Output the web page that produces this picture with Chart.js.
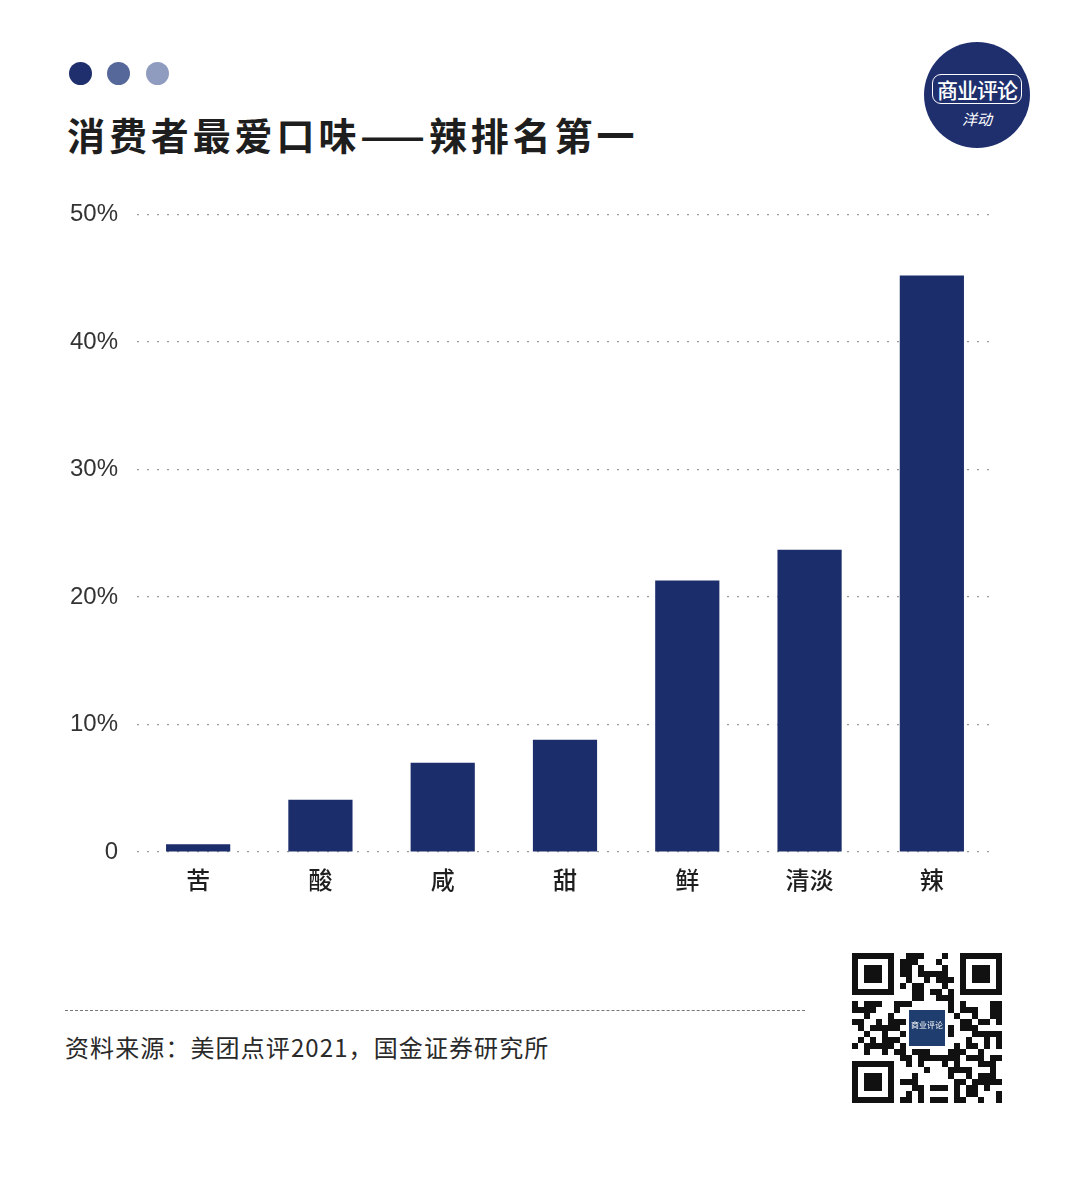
<!DOCTYPE html>
<html>
<head>
<meta charset="utf-8">
<script src="https://cdn.jsdelivr.net/npm/chart.js@4.4.0/dist/chart.umd.min.js"></script>
<style>
  html, body { margin: 0; padding: 0; background: #ffffff; }
  body { width: 1080px; height: 1191px; position: relative; overflow: hidden; font-family: "Noto Sans CJK SC", "Noto Sans", sans-serif; }
  .dot { position: absolute; width: 23px; height: 23px; border-radius: 50%; top: 62px; }
  #title { position: absolute; left: 67px; top: 108px; font-size: 38px; font-weight: 700; color: #1e1e1e; letter-spacing: 3.9px; white-space: nowrap; line-height: 52px; }
  #logo { position: absolute; left: 924px; top: 42px; width: 106px; height: 106px; border-radius: 50%; background: #1f2f6e; }
  #logo .box { position: absolute; left: 8px; top: 32px; width: 88px; height: 28px; border: 1.5px solid #ffffff; border-radius: 9px; color: #fff; font-size: 21px; line-height: 28px; text-align: center; font-weight: 500; letter-spacing: -1px; }
  #logo .sub { position: absolute; left: 38px; top: 66px; color: #fff; font-size: 15px; font-style: italic; }
  #chartWrap { position: absolute; left: 0; top: 181px; width: 1080px; height: 739px; }
  #footline { position: absolute; left: 65px; top: 1010px; width: 740px; height: 0; border-top: 1.5px dashed #777; }
  #source { position: absolute; left: 65px; top: 1030px; font-size: 24px; color: #2a2a2a; white-space: nowrap; line-height: 34px; letter-spacing: 1.1px; }
  #qr { position: absolute; left: 851px; top: 952px; }
</style>
</head>
<body>
<div class="dot" style="left:69px;background:#1f2f6e"></div>
<div class="dot" style="left:107px;background:#56679a"></div>
<div class="dot" style="left:146px;background:#909bc0"></div>
<div id="title">消费者最爱口味——辣排名第一</div>
<div id="logo"><div class="box">商业评论</div><div class="sub">洋动</div></div>
<div id="chartWrap"><canvas id="c" width="1080" height="739"></canvas></div>
<div id="footline"></div>
<div id="source">资料来源：美团点评2021，国金证券研究所</div>
<canvas id="qr" width="152" height="152"></canvas>
<script>
const categories = ['苦', '酸', '咸', '甜', '鲜', '清淡', '辣'];
const values = [0.6, 4.1, 7.0, 8.8, 21.3, 23.7, 45.2];
const yTickValues = [0, 10, 20, 30, 40, 50];
const yTickLabels = ['0', '10%', '20%', '30%', '40%', '50%'];

const ctx = document.getElementById('c').getContext('2d');
new Chart(ctx, {
  type: 'bar',
  data: {
    labels: categories,
    datasets: [{
      data: values,
      backgroundColor: '#1c2d6b',
      borderWidth: 0,
      barPercentage: 0.525,
      categoryPercentage: 1.0
    }]
  },
  options: {
    responsive: false,
    animation: false,
    layout: { padding: { top: 14, right: 87, left: 0, bottom: 0 } },
    plugins: { legend: { display: false }, tooltip: { enabled: false } },
    scales: {
      x: {
        grid: { display: false, drawTicks: false },
        border: { display: false },
        ticks: { color: '#1e1e1e', font: { family: 'Noto Sans CJK SC', size: 24, weight: '500' }, padding: 13 },
        afterFit: (s) => { s.height = 68; }
      },
      y: {
        min: 0, max: 50,
        afterBuildTicks: (s) => { s.ticks = yTickValues.map(v => ({ value: v })); },
        grid: { color: '#9a9a9a', lineWidth: 1.2, drawTicks: false },
        border: { display: false, dash: [2, 8] },
        ticks: {
          color: '#333',
          font: { family: 'Liberation Sans', size: 24 },
          padding: 19,
          callback: (v) => yTickLabels[yTickValues.indexOf(v)]
        },
        afterFit: (s) => { s.width = 137; }
      }
    }
  }
});
</script>
<script>
// decorative QR-like code
(function(){
  const q = document.getElementById('qr').getContext('2d');
  const n = 25, m = 6;
  q.fillStyle = '#fff'; q.fillRect(0,0,152,152);
  q.fillStyle = '#111';
  const seed = '商业评论洋动资料来源美团点评国金证券研究所';
  function bit(r, c) {
    const a = seed.charCodeAt((r * 3 + c) % seed.length);
    return ((a >> ((r + c * 2) % 9)) ^ (r * c) ^ (r + c)) & 1;
  }
  function inFinder(r, c) {
    return (r < 8 && c < 8) || (r < 8 && c > n - 9) || (r > n - 9 && c < 8);
  }
  for (let r = 0; r < n; r++) for (let c = 0; c < n; c++) {
    if (inFinder(r, c)) continue;
    if (bit(r, c)) q.fillRect(c * m + 1, r * m + 1, m, m);
  }
  function finder(x, y) {
    q.fillStyle = '#111'; q.fillRect(x, y, 7*m, 7*m);
    q.fillStyle = '#fff'; q.fillRect(x+m, y+m, 5*m, 5*m);
    q.fillStyle = '#111'; q.fillRect(x+2*m, y+2*m, 3*m, 3*m);
  }
  finder(1, 1); finder(1 + (n-7)*m, 1); finder(1, 1 + (n-7)*m);
  q.fillStyle = '#fff'; q.fillRect(55, 55, 42, 42);
  q.fillStyle = '#1f3d6e'; q.fillRect(58, 58, 36, 36);
  q.fillStyle = '#fff'; q.font = '8px "Noto Sans CJK SC"'; q.fillText('商业评论', 60, 76);
})();
</script>
</body>
</html>
